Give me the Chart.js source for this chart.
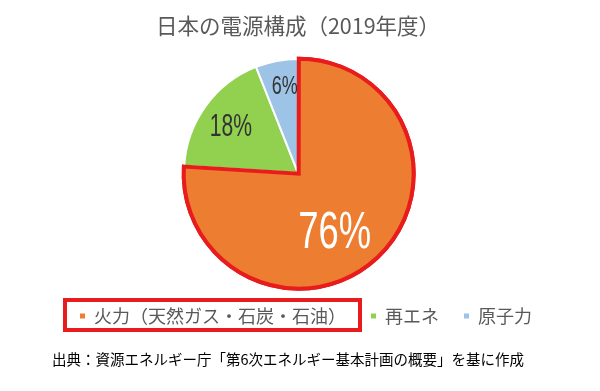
<!DOCTYPE html>
<html>
<head>
<meta charset="utf-8">
<script src="https://cdn.jsdelivr.net/npm/chart.js@4.4.1/dist/chart.umd.min.js"></script>
<style>
  html, body { margin: 0; padding: 0; background: #ffffff; }
  #wrap { width: 600px; height: 391px; position: relative; }
</style>
</head>
<body>
<div id="wrap"><canvas id="c" width="600" height="391"></canvas></div>
<script>
// ---- data ----
const titleText = '日本の電源構成（2019年度）';
const categories = ['火力（天然ガス・石炭・石油）', '再エネ', '原子力'];
const shares = [76, 18, 6];
const sourceNote = '出典：資源エネルギー庁「第6次エネルギー基本計画の概要」を基に作成';

// ---- styles ----
const sliceColors = ['#ED7D31', '#92D050', '#9DC3E6'];
const highlightRed = '#E81C1C';
const labelStyles = [
  { color: '#ffffff', size: 52, frac: 0.62, dAng: 12, sx: 0.70 },
  { color: '#333333', size: 32, frac: 0.71, dAng: -2, sx: 0.66 },
  { color: '#333333', size: 25, frac: 0.76, dAng: 2, sx: 0.72 }
];
const jpFont = '"Noto Sans CJK JP", "Noto Sans", sans-serif';
const legendShift = 8;

const overlayPlugin = {
  id: 'overlay',
  afterUpdate(chart) {
    const lg = chart.legend;
    lg.left += legendShift;
    lg.right += legendShift;
    lg.legendHitBoxes.forEach(h => { h.left += legendShift; });
  },
  afterDatasetsDraw(chart) {
    const ctx = chart.ctx;
    const meta = chart.getDatasetMeta(0);
    // redraw highlighted slice so its red border is on top
    meta.data[0].draw(ctx);
    // value labels
    meta.data.forEach((arc, i) => {
      const st = labelStyles[i];
      const mid = (arc.startAngle + arc.endAngle) / 2 + st.dAng * Math.PI / 180;
      const r = arc.outerRadius * st.frac;
      const x = arc.x + Math.cos(mid) * r;
      const y = arc.y + Math.sin(mid) * r;
      ctx.save();
      ctx.translate(x, y);
      ctx.scale(st.sx, 1);
      ctx.font = st.size + 'px "Liberation Sans Narrow", "Liberation Sans", sans-serif';
      ctx.fillStyle = st.color;
      ctx.textAlign = 'center';
      ctx.textBaseline = 'middle';
      ctx.fillText(shares[i] + '%', 0, 0);
      ctx.restore();
    });
  },
  afterDraw(chart) {
    const ctx = chart.ctx;
    // red frame around first legend item
    const hb = chart.legend.legendHitBoxes[0];
    if (hb) {
      const cy = hb.top + hb.height / 2;
      ctx.save();
      ctx.strokeStyle = highlightRed;
      ctx.lineWidth = 4;
      ctx.strokeRect(hb.left - 15, cy - 16, hb.width + 29, 30);
      ctx.restore();
    }
    // source note
    ctx.save();
    ctx.font = '14.5px ' + jpFont;
    ctx.fillStyle = '#000000';
    ctx.textAlign = 'center';
    ctx.textBaseline = 'middle';
    ctx.fillText(sourceNote, 288, 359);
    ctx.restore();
  }
};

new Chart(document.getElementById('c'), {
  type: 'pie',
  data: {
    labels: categories,
    datasets: [{
      data: shares,
      backgroundColor: sliceColors,
      borderColor: [highlightRed, '#ffffff', '#ffffff'],
      borderWidth: [4, 2, 2],
      offset: [4, 0, 0],
      radius: 114,
      clip: false,
      borderJoinStyle: 'miter'
    }]
  },
  options: {
    responsive: false,
    animation: false,
    layout: { padding: { top: 0, bottom: 56, left: 0, right: 4 } },
    plugins: {
      title: {
        display: true,
        text: titleText,
        color: '#595959',
        font: { family: jpFont, size: 21.5, weight: 'normal' },
        padding: { top: 13, bottom: 25 }
      },
      legend: {
        display: true,
        position: 'bottom',
        labels: {
          color: '#595959',
          font: { family: jpFont, size: 18 },
          boxWidth: 5,
          boxHeight: 5,
          padding: 25,
          generateLabels(chart) {
            const items = Chart.controllers.pie.overrides.plugins.legend.labels.generateLabels(chart);
            items.forEach(it => { it.strokeStyle = it.fillStyle; it.lineWidth = 0; });
            return items;
          }
        }
      },
      tooltip: { enabled: false }
    }
  },
  plugins: [overlayPlugin]
});
</script>
</body>
</html>
